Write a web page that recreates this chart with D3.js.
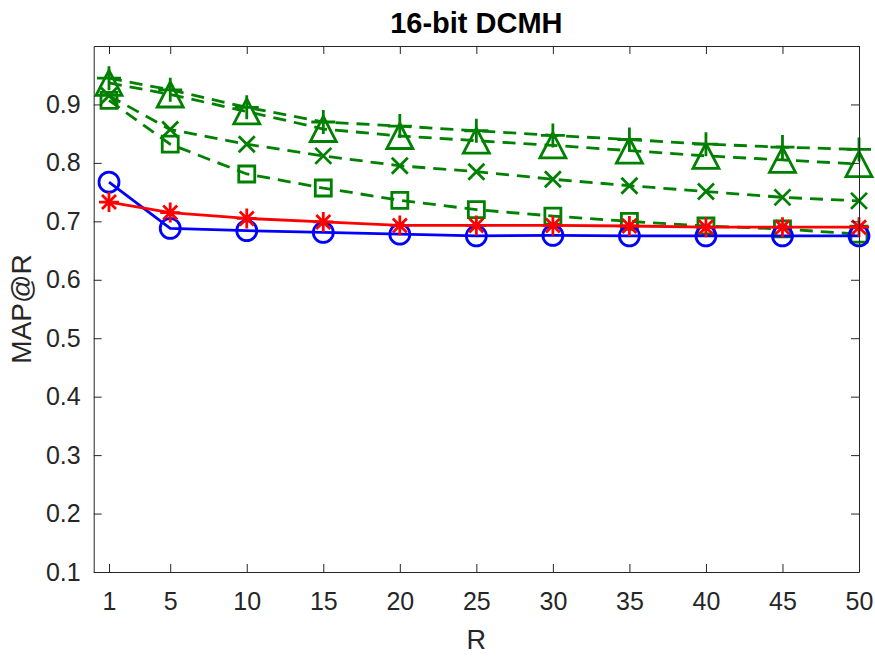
<!DOCTYPE html>
<html>
<head>
<meta charset="utf-8">
<script src="https://cdn.jsdelivr.net/npm/d3@7"></script>
<style>
  body { margin: 0; background: #fff; }
  svg { display: block; font-family: "Liberation Sans", Arial, sans-serif; }
</style>
</head>
<body>
<div id="chart"></div>
<script>
// values
var R = [1, 5, 10, 15, 20, 25, 30, 35, 40, 45, 50];
var plusVals = [0.945, 0.925, 0.895, 0.870, 0.863, 0.855, 0.847, 0.840, 0.832, 0.827, 0.823];
var triVals = [0.937, 0.917, 0.888, 0.858, 0.846, 0.838, 0.830, 0.821, 0.812, 0.805, 0.798];
var crossVals = [0.915, 0.857, 0.832, 0.812, 0.795, 0.785, 0.772, 0.761, 0.751, 0.741, 0.735];
var squareVals = [0.907, 0.832, 0.781, 0.757, 0.736, 0.720, 0.709, 0.700, 0.692, 0.687, 0.678];
var blueVals = [0.767, 0.688, 0.684, 0.681, 0.678, 0.675, 0.676, 0.675, 0.675, 0.675, 0.675];
var redVals = [0.733, 0.715, 0.705, 0.699, 0.693, 0.693, 0.693, 0.692, 0.690, 0.690, 0.690];
var yTicks = [0.1, 0.2, 0.3, 0.4, 0.5, 0.6, 0.7, 0.8, 0.9];

var width = 875, height = 657;
var margin = {left: 93.7, right: 859, top: 46, bottom: 572};
var axisColor = "#262626";
var green = "#008000";

var x = d3.scaleLinear([0, 50], [margin.left, margin.right]);
var y = d3.scaleLinear([0.1, 1.0], [margin.bottom, margin.top]);

var svg = d3.select("#chart").append("svg")
    .attr("width", width)
    .attr("height", height);

// marker shapes
function markerPath(type) {
  switch (type) {
    case "plus": return "M-12,0H12M0,-12V12";
    case "cross": return "M-8,-8L8,8M-8,8L8,-8";
    case "square": return "M-8,-8H8V8H-8Z";
    case "tri": return "M0,-12.5L13,12.5H-13Z";
    case "asterisk": return "M-10,0H10M0,-10V10M-7,-7L7,7M-7,7L7,-7";
    case "circle": return "M10,0A10,10 0 1,1 -10,0A10,10 0 1,1 10,0Z";
  }
}

var series = [
  {values: squareVals, color: green, dash: "13,8", marker: "square"},
  {values: crossVals, color: green, dash: "13,8", marker: "cross"},
  {values: triVals, color: green, dash: "13,8", marker: "tri"},
  {values: plusVals, color: green, dash: "13,8", marker: "plus"},
  {values: blueVals, color: "#0000ff", dash: null, marker: "circle"},
  {values: redVals, color: "#ff0000", dash: null, marker: "asterisk"}
];

var line = d3.line()
    .x((d, i) => x(R[i]))
    .y(d => y(d));

var plot = svg.append("g");

series.forEach(s => {
  plot.append("path")
      .attr("d", line(s.values))
      .attr("fill", "none")
      .attr("stroke", s.color)
      .attr("stroke-width", 2.8)
      .attr("stroke-dasharray", s.dash);

  plot.append("g").selectAll("path")
    .data(s.values)
    .join("path")
      .attr("transform", (d, i) => `translate(${x(R[i])},${y(d)})`)
      .attr("d", markerPath(s.marker))
      .attr("fill", "none")
      .attr("stroke", s.color)
      .attr("stroke-width", 2.8);
});

// axes (MATLAB style, ticks pointing in, box on)
function styleAxis(g) {
  g.selectAll(".domain").attr("stroke", axisColor);
  g.selectAll(".tick line").attr("stroke", axisColor);
  g.selectAll(".tick text").attr("fill", axisColor).style("font-size", "25px");
}

svg.append("g")
    .attr("transform", `translate(0,${margin.bottom})`)
    .call(d3.axisBottom(x).tickValues(R).tickSizeInner(-8).tickSizeOuter(0).tickPadding(20))
    .call(styleAxis);

svg.append("g")
    .attr("transform", `translate(0,${margin.top})`)
    .call(d3.axisTop(x).tickValues(R).tickSizeInner(-8).tickSizeOuter(0).tickFormat(""))
    .call(styleAxis);

svg.append("g")
    .attr("transform", `translate(${margin.left},0)`)
    .call(d3.axisLeft(y).tickValues(yTicks).tickSizeInner(-8).tickSizeOuter(0).tickPadding(13).tickFormat(d3.format(".1f")))
    .call(styleAxis);

svg.append("g")
    .attr("transform", `translate(${margin.right},0)`)
    .call(d3.axisRight(y).tickValues(yTicks).tickSizeInner(-8).tickSizeOuter(0).tickFormat(""))
    .call(styleAxis);

// title and labels
svg.append("text")
    .attr("x", (margin.left + margin.right) / 2)
    .attr("y", 33)
    .attr("text-anchor", "middle")
    .style("font-size", "29px")
    .style("font-weight", "bold")
    .attr("fill", "#000")
    .text("16-bit DCMH");

svg.append("text")
    .attr("x", (margin.left + margin.right) / 2)
    .attr("y", 649)
    .attr("text-anchor", "middle")
    .style("font-size", "27px")
    .attr("fill", axisColor)
    .text("R");

svg.append("text")
    .attr("transform", `translate(31,${(margin.top + margin.bottom) / 2}) rotate(-90)`)
    .attr("text-anchor", "middle")
    .style("font-size", "28px")
    .attr("fill", axisColor)
    .text("MAP@R");
</script>
</body>
</html>
